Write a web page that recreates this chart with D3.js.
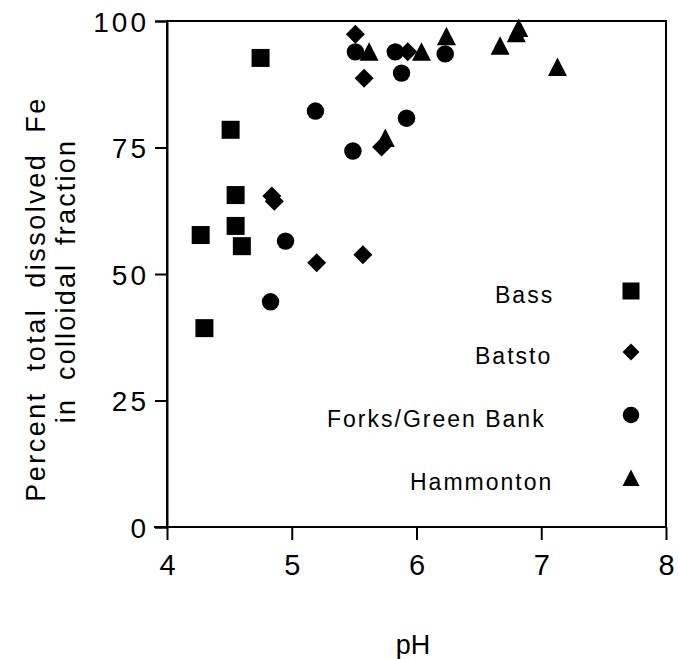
<!DOCTYPE html>
<html>
<head>
<meta charset="utf-8">
<script src="https://cdn.jsdelivr.net/npm/d3@7"></script>
<style>
  html, body { margin: 0; padding: 0; background: #fff; }
  svg { display: block; }
  text { font-family: "Liberation Sans", Arial, Helvetica, sans-serif; fill: #000; }
</style>
</head>
<body>
<svg id="chart" width="678" height="659"></svg>
<script>
// ---- data ----
const series = ["Bass", "Batsto", "Forks/Green Bank", "Hammonton"];
const shapes = ["square", "diamond", "circle", "triangle"];

const bassPH  = [4.75, 4.51, 4.55, 4.55, 4.27, 4.60, 4.30];
const bassPct = [92.7, 78.5, 65.6, 59.5, 57.7, 55.5, 39.3];

const batstoPH  = [4.84, 4.86, 5.51, 5.58, 5.93, 5.72, 5.20, 5.57];
const batstoPct = [65.4, 64.4, 97.4, 88.7, 93.9, 75.1, 52.2, 53.8];

const forksPH  = [5.51, 5.83, 5.88, 5.19, 5.92, 5.49, 6.23, 4.95, 4.83];
const forksPct = [93.9, 93.9, 89.7, 82.2, 80.8, 74.3, 93.5, 56.5, 44.5];

const hammPH  = [5.62, 6.04, 5.75, 6.24, 6.67, 6.82, 6.80, 7.13];
const hammPct = [93.9, 93.9, 76.9, 97.0, 95.1, 98.6, 97.6, 90.9];

const xTicks = [4, 5, 6, 7, 8];
const yTicks = [0, 25, 50, 75, 100];

const phs = [bassPH, batstoPH, forksPH, hammPH];
const pcts = [bassPct, batstoPct, forksPct, hammPct];

// ---- layout ----
const svg = d3.select("#chart");
const x = d3.scaleLinear().domain([4, 8]).range([167, 666]);
const y = d3.scaleLinear().domain([0, 100]).range([527, 21]);

function shapePath(kind, s) {
  const h = s / 2;
  if (kind === "square") return `M${-h},${-h}H${h}V${h}H${-h}Z`;
  if (kind === "diamond") return `M0,${-h}L${h},0L0,${h}L${-h},0Z`;
  if (kind === "triangle") return `M0,${-h}L${h},${h - 0.5}L${-h},${h - 0.5}Z`;
  const p = d3.path(); p.arc(0, 0, h * 0.97, 0, 2 * Math.PI); return p.toString();
}
const markSize = { square: 18, diamond: 19, circle: 18, triangle: 19 };

// frame
svg.append("rect")
  .attr("x", x(4)).attr("y", y(100))
  .attr("width", x(8) - x(4)).attr("height", y(0) - y(100))
  .attr("fill", "none").attr("stroke", "#000").attr("stroke-width", 2);

// axes
const xAxis = d3.axisBottom(x).tickValues(xTicks).tickSize(13).tickPadding(8).tickFormat(d3.format("d"));
const gx = svg.append("g").attr("transform", `translate(0,${y(0)})`).call(xAxis);
gx.select(".domain").attr("stroke-width", 2).attr("d", `M${x(4) - 13},0H${x(8)}`);
gx.selectAll(".tick line").attr("stroke-width", 2);
gx.selectAll(".tick text").attr("font-size", 29).attr("dy", "0.92em");

const yAxis = d3.axisLeft(y).tickValues(yTicks).tickSize(12).tickPadding(6);
const gy = svg.append("g").attr("transform", `translate(${x(4)},0)`).call(yAxis);
gy.select(".domain").attr("stroke-width", 2);
gy.selectAll(".tick line").attr("stroke-width", 2);
gy.selectAll(".tick text").attr("font-size", 28).attr("letter-spacing", 3).attr("dy", "0.36em");

// axis titles
svg.append("text")
  .attr("x", 413).attr("y", 654)
  .attr("text-anchor", "middle").attr("font-size", 27)
  .text("pH");

svg.append("text")
  .attr("transform", "translate(45,299) rotate(-90)")
  .attr("text-anchor", "middle").attr("font-size", 27)
  .attr("letter-spacing", 2.5).attr("word-spacing", 10)
  .text("Percent total dissolved Fe");
svg.append("text")
  .attr("transform", "translate(75,281) rotate(-90)")
  .attr("text-anchor", "middle").attr("font-size", 27)
  .attr("letter-spacing", 2.2).attr("word-spacing", 8)
  .text("in colloidal fraction");

// points
const pts = svg.append("g");
series.forEach((name, i) => {
  const data = phs[i].map((p, j) => ({ ph: p, pct: pcts[i][j] }));
  pts.selectAll(null).data(data).enter().append("path")
    .attr("d", shapePath(shapes[i], markSize[shapes[i]]))
    .attr("transform", d => `translate(${x(d.ph)},${y(d.pct)})`)
    .attr("fill", "#000");
});

// legend
const legTextX = [495, 475, 327, 410];
const legY = [291, 352, 415, 478];
series.forEach((name, i) => {
  svg.append("text")
    .attr("x", legTextX[i]).attr("y", legY[i] + 12)
    .attr("font-size", 23).attr("letter-spacing", 2)
    .text(name);
  svg.append("path")
    .attr("d", shapePath(shapes[i], 17))
    .attr("transform", `translate(631,${legY[i]})`)
    .attr("fill", "#000");
});
</script>
</body>
</html>
